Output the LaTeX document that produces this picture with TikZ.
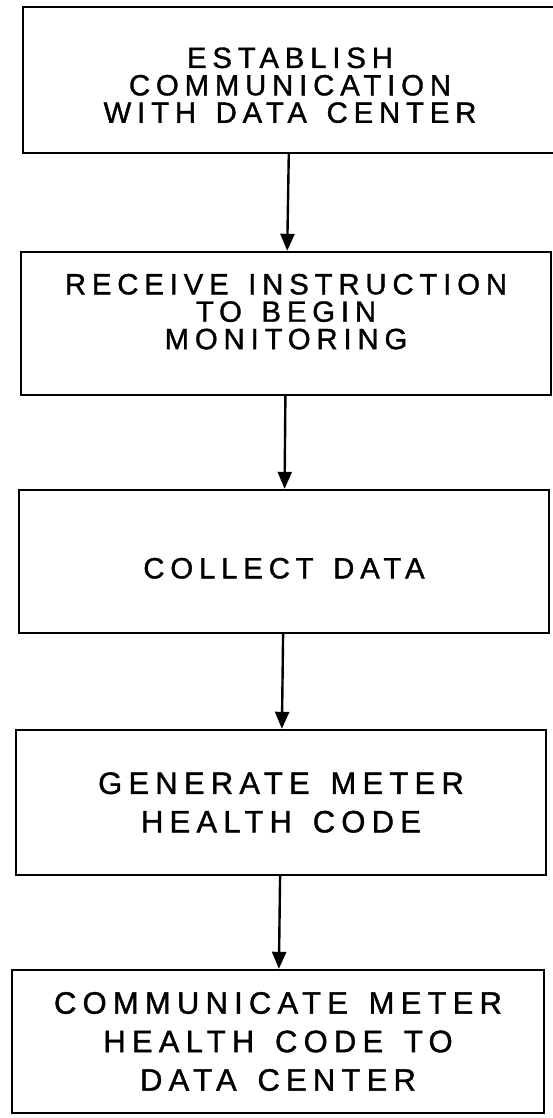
\documentclass[tikz,border=0pt]{standalone}
\usepackage{fontspec}
\setmainfont{Liberation Sans}[LetterSpace=20, WordSpace=1.4, FakeBold=1.2]
\usepackage{tikz}
\usetikzlibrary{arrows.meta}

% zero-width struts: \lift pushes a box's text up, \drop pushes it down
\newcommand{\lift}[1]{\rule[-#1]{0pt}{#1}}
\newcommand{\drop}[1]{\rule{0pt}{#1}}

\tikzset{
  stepbox/.style={draw, rectangle, line width=2.4pt, inner sep=0pt,
    minimum width=530pt, minimum height=143pt, align=center,
    font=\fontsize{29.3pt}{27.4pt}\selectfont},
  widebox/.style={stepbox, font=\fontsize{31pt}{38.5pt}\selectfont},
  flow/.style={-{Triangle[length=17pt,width=14pt]}, line width=2.4pt}
}

\begin{document}
\begin{tikzpicture}[x=1pt,y=-1pt]
            \useasboundingbox (0,0) rectangle (552,1118);

            \node[stepbox, minimum width=534pt, minimum height=146pt] (establish) at (290,80)
                {\drop{31pt}ESTABLISH\\COMMUNICATION\\WITH DATA CENTER};
            \node[stepbox] (receive) at (286,323.5)
                {RECEIVE INSTRUCTION\\TO BEGIN\\MONITORING\lift{24pt}};
            \node[stepbox] (collect) at (284,561.5) {\drop{34pt}COLLECT DATA};
            \node[widebox, minimum height=145pt] (generate) at (281,802.5)
                {GENERATE METER\\HEALTH CODE};
            \node[widebox, minimum width=532pt] (report) at (278,1041.5)
                {COMMUNICATE METER\\HEALTH CODE TO\\DATA CENTER};

            \draw[flow] (establish) -- (receive);
            \draw[flow] (receive) -- (collect);
            \draw[flow] (collect) -- (generate);
            \draw[flow] (generate) -- (report);
          \end{tikzpicture}
\end{document}
